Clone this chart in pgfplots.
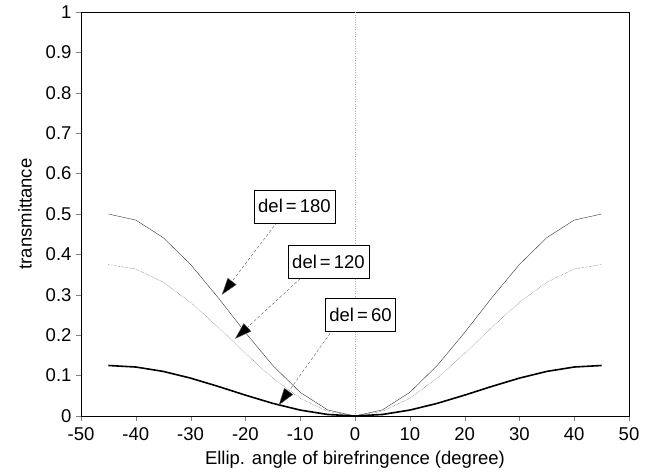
\documentclass[border=0pt]{standalone}
\usepackage{fontspec}
\setmainfont{Liberation Sans}
\usepackage{pgfplots}
\pgfplotsset{compat=1.18}
\usetikzlibrary{arrows.meta}
\begin{document}
\begin{tikzpicture}
\begin{axis}[
  width=548pt, height=404pt, scale only axis,
  xmin=-50, xmax=50, ymin=0, ymax=1,
  xtick={-50,-40,...,50},
  ytick={0,0.1,0.2,0.3,0.4,0.5,0.6,0.7,0.8,0.9,1},
  yticklabels={0,0.1,0.2,0.3,0.4,0.5,0.6,0.7,0.8,0.9,1},
  xtick pos=bottom, ytick pos=left, tick align=outside,
  major tick length=5pt,
  /pgf/number format/assume math mode=true,
  tick label style={font=\fontsize{18.5}{20}\selectfont},
  xticklabel style={yshift=-3pt},
  yticklabel style={xshift=-1pt},
  label style={font=\fontsize{18.5}{20}\selectfont},
  xlabel={Ellip. angle of birefringence (degree)},
  ylabel={transmittance},
  xlabel style={at={(axis description cs:0.5,-0.121)}, anchor=base},
  ylabel style={at={(axis description cs:-0.102,0.5)}, anchor=center},
  axis line style={line width=0.8pt},
  clip=false,
]
\addplot[gray!60, dotted, thin] coordinates {(0,0) (0,1)};
% del=180
\addplot[black!80, thin] coordinates {
(-45,0.5) (-40,0.48492) (-35,0.44151) (-30,0.375) (-25,0.29341) (-20,0.20659) (-15,0.125) (-10,0.05849) (-5,0.01508) (0,0)
(5,0.01508) (10,0.05849) (15,0.125) (20,0.20659) (25,0.29341) (30,0.375) (35,0.44151) (40,0.48492) (45,0.5)};
% del=120
\addplot[black!80, densely dotted, thin] coordinates {
(-45,0.375) (-40,0.36369) (-35,0.33113) (-30,0.28125) (-25,0.22006) (-20,0.15494) (-15,0.09375) (-10,0.04387) (-5,0.01131) (0,0)
(5,0.01131) (10,0.04387) (15,0.09375) (20,0.15494) (25,0.22006) (30,0.28125) (35,0.33113) (40,0.36369) (45,0.375)};
% del=60
\addplot[black, line width=1.6pt] coordinates {
(-45,0.125) (-40,0.12123) (-35,0.11038) (-30,0.09375) (-25,0.07335) (-20,0.05165) (-15,0.03125) (-10,0.01462) (-5,0.00377) (0,0)
(5,0.00377) (10,0.01462) (15,0.03125) (20,0.05165) (25,0.07335) (30,0.09375) (35,0.11038) (40,0.12123) (45,0.125)};
% annotations
\tikzset{lbl/.style={draw, fill=white, font=\fontsize{18.5}{20}\selectfont, inner xsep=4pt, minimum height=33pt},
         arr/.style={gray!70!black, densely dashed, thin, -{Triangle[length=17pt,width=11pt,fill=black]}}}
\draw[arr] (axis cs:-14.2,0.480) -- (axis cs:-24.3,0.300);
\draw[arr] (axis cs:-10.0,0.340) -- (axis cs:-21.9,0.191);
\draw[arr] (axis cs:-4.0,0.215) -- (axis cs:-13.9,0.027);
\node[lbl] at (axis cs:-11.05,0.519) {del\,=\,180};
\node[lbl] at (axis cs:-4.84,0.382) {del\,=\,120};
\node[lbl] at (axis cs:1.0,0.250) {del\,=\,60};
\coordinate (LL) at (rel axis cs:0,0);
\coordinate (UR) at (rel axis cs:1,1);
\end{axis}
\pgfresetboundingbox
\path[use as bounding box] ([shift={(-81pt,-57pt)}]LL) rectangle ([shift={(25pt,12pt)}]UR);
\end{tikzpicture}
\end{document}
